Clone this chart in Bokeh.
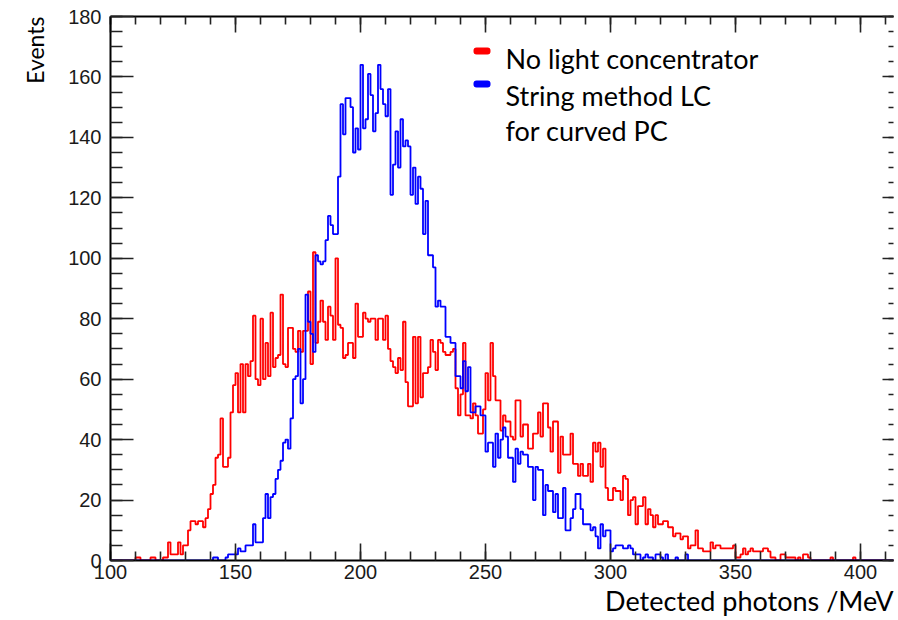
import numpy as np
from bokeh.plotting import figure
from bokeh.models import (Range1d, LinearAxis, SingleIntervalTicker, Label,
                          BoxAnnotation, Title, CustomLabelingPolicy)
from bokeh.embed import file_html
from bokeh.resources import INLINE

# ---------------- data (1-unit bins, first bin edge at 100) ----------------
first_edge = 100
bin_width = 1

red_counts = [
    0, 0, 0, 0, 0, 0, 0, 0, 0, 0,          # 100
    1, 1, 0, 0, 0, 0, 1, 1, 0, 0,          # 110
    0, 1, 1, 6, 2, 2, 2, 6, 2, 5,          # 120
    5, 10, 13, 13, 12, 13, 13, 11, 14, 17,  # 130
    22, 25, 34, 35, 47, 31, 31, 34, 49, 58,  # 140
    62, 49, 65, 49, 65, 61, 66, 81, 60, 58,  # 150
    80, 60, 72, 61, 82, 64, 67, 68, 88, 65,  # 160
    64, 77, 77, 70, 69, 76, 69, 76, 76, 89,  # 170
    65, 102, 72, 79, 86, 79, 73, 84, 81, 73,  # 180
    100, 78, 77, 67, 68, 72, 72, 67, 85, 74,  # 190
    74, 82, 80, 79, 80, 80, 73, 80, 80, 73,  # 200
    81, 70, 66, 64, 62, 67, 63, 79, 59, 51,  # 210
    51, 74, 52, 74, 54, 62, 62, 64, 73, 69,  # 220
    63, 73, 72, 69, 68, 68, 69, 70, 57, 48,  # 230
    55, 72, 48, 48, 47, 52, 48, 42, 42, 50,  # 240
    62, 53, 72, 61, 53, 53, 43, 48, 46, 46,  # 250
    41, 40, 53, 53, 41, 45, 45, 37, 37, 42,  # 260
    42, 49, 41, 52, 52, 44, 36, 46, 46, 29,  # 270
    41, 35, 35, 35, 42, 32, 32, 28, 32, 28,  # 280
    28, 32, 26, 39, 36, 39, 31, 37, 24, 20,  # 290
    20, 24, 23, 23, 20, 28, 27, 15, 20, 21,  # 300
    12, 18, 18, 21, 12, 17, 15, 11, 15, 12,  # 310
    12, 13, 13, 11, 11, 8, 9, 9, 7, 8,      # 320
    8, 4, 5, 5, 10, 4, 4, 3, 3, 3,          # 330
    6, 4, 5, 5, 4, 4, 4, 4, 4, 5,           # 340
    1, 1, 2, 4, 2, 3, 4, 3, 3, 3,           # 350
    3, 4, 4, 3, 1, 1, 0, 0, 2, 2,           # 360
    1, 1, 1, 1, 0, 1, 0, 2, 2, 1,           # 370
    0, 0, 0, 0, 0, 0, 0, 0, 1, 0,           # 380
    0, 0, 0, 0, 0, 0, 0, 1, 0, 0,           # 390
    0, 0, 0, 0, 0, 0, 0, 0, 0, 0,           # 400
    0, 0, 0, 0, 0, 0,                       # 410
]

blue_counts = [
    0, 0, 0, 0, 0, 0, 0, 0, 0, 0,          # 100
    0, 0, 0, 0, 0, 0, 0, 0, 0, 0,          # 110
    0, 0, 0, 0, 0, 0, 0, 0, 0, 0,          # 120
    0, 0, 0, 0, 0, 0, 0, 0, 0, 0,          # 130
    0, 1, 1, 0, 0, 0, 1, 2, 2, 2,          # 140
    2, 4, 3, 3, 5, 5, 5, 12, 6, 6,         # 150
    6, 14, 22, 14, 21, 22, 27, 30, 33, 39,  # 160
    40, 37, 47, 60, 61, 70, 52, 60, 88, 79,  # 170
    75, 69, 101, 99, 98, 99, 106, 114, 111, 108,  # 180
    108, 127, 151, 141, 153, 153, 150, 135, 143, 136,  # 190
    164, 143, 146, 161, 154, 142, 148, 164, 156, 151,  # 200
    147, 156, 121, 131, 142, 130, 146, 137, 139, 137,  # 210
    121, 130, 118, 127, 123, 108, 119, 101, 101, 97,  # 220
    84, 86, 84, 84, 74, 74, 72, 72, 61, 61,  # 230
    57, 66, 56, 64, 49, 49, 51, 51, 48, 48,  # 240
    36, 39, 39, 31, 42, 34, 40, 44, 41, 34,  # 250
    34, 26, 37, 32, 36, 35, 35, 31, 31, 20,  # 260
    31, 30, 30, 15, 25, 23, 23, 16, 22, 14,  # 270
    14, 24, 10, 10, 14, 17, 22, 22, 17, 12,  # 280
    12, 12, 10, 11, 8, 4, 12, 8, 10, 10,    # 290
    3, 4, 5, 5, 5, 4, 4, 5, 4, 2,           # 300
    2, 2, 0, 1, 2, 1, 1, 0, 2, 2,           # 310
    1, 0, 2, 0, 0, 0, 1, 0, 0, 0,           # 320
    2, 0, 0, 0, 0, 0, 0, 0, 0, 0,           # 330
    0, 0, 0, 0, 0, 0, 0, 0, 0, 0,           # 340
    0, 0, 0, 0, 0, 0, 0, 0, 0, 0,           # 350
    0, 0, 0, 0, 0, 0, 0, 0, 0, 0,           # 360
    0, 0, 0, 0, 0, 0, 0, 0, 0, 0,           # 370
    0, 0, 0, 0, 0, 0, 0, 0, 0, 0,           # 380
    0, 0, 0, 0, 0, 0, 0, 0, 0, 0,           # 390
    0, 0, 0, 0, 0, 0, 0, 0, 0, 0,           # 400
    0, 0, 0, 0, 0, 0,                       # 410
]

series_labels = ["No light concentrator", "String method LC", "for curved PC"]
x_axis_title = "Detected photons /MeV"
y_axis_title = "Events"
x_tick_step = 50
y_tick_step = 20

# ---------------- figure ----------------
W, H = 898, 620
x_end = 413.2
p = figure(width=W, height=H, output_backend="svg", toolbar_location=None,
           x_range=Range1d(100, x_end), y_range=Range1d(0, 180),
           min_border_left=110, min_border_right=0, min_border_top=16,
           min_border_bottom=60, x_axis_type=None, y_axis_type=None)
p.background_fill_color = "white"
p.border_fill_color = "white"
p.outline_line_color = None
p.xgrid.visible = False
p.ygrid.visible = False

tick_font = "Liberation Sans"
axis_col = "#222222"
no_labels = CustomLabelingPolicy(code="return []")

def style_axis(ax, tin, mtin, labels=True):
    ax.major_tick_in = tin
    ax.major_tick_out = 0
    ax.minor_tick_in = mtin
    ax.minor_tick_out = 0
    ax.major_tick_line_color = axis_col
    ax.minor_tick_line_color = axis_col
    ax.major_tick_line_width = 1.6
    ax.minor_tick_line_width = 1.6
    ax.axis_line_color = "black"
    ax.axis_line_width = 2
    ax.major_label_text_font = tick_font
    ax.major_label_text_color = "#1a1a1a"
    if labels:
        ax.major_label_text_font_size = "20px"
    else:
        ax.major_label_text_font_size = "1px"
        ax.major_label_policy = no_labels
        ax.major_label_standoff = 0

xt = SingleIntervalTicker(interval=x_tick_step, num_minor_ticks=5)
yt = SingleIntervalTicker(interval=y_tick_step, num_minor_ticks=4)

xb = LinearAxis(ticker=xt)
style_axis(xb, 17, 9)
xb.major_label_standoff = 4
p.add_layout(xb, "below")

xa = LinearAxis(ticker=xt)
style_axis(xa, 16, 8, labels=False)
p.add_layout(xa, "above")

yl = LinearAxis(ticker=yt)
style_axis(yl, 23, 12)
yl.major_label_standoff = 9
p.add_layout(yl, "left")

yr = LinearAxis(ticker=yt)
style_axis(yr, 11, 5, labels=False)
yr.axis_line_color = None
p.add_layout(yr, "right")

# ---------------- histograms ----------------
def step_xy(counts):
    c = np.asarray(counts, dtype=float)
    edges = first_edge + bin_width * np.arange(len(c) + 1)
    return edges, np.append(c, c[-1])

rx, ry = step_xy(red_counts)
bx, by = step_xy(blue_counts)
p.step(rx, ry, mode="after", line_color="#ff0000", line_width=1.8)
p.step(bx, by, mode="after", line_color="#0000ff", line_width=1.8)

# ---------------- legend (manual) ----------------
leg_font = "Lato"
p.add_layout(BoxAnnotation(left=363, right=380, top=513, bottom=506,
                           left_units="screen", right_units="screen",
                           top_units="screen", bottom_units="screen",
                           fill_color="#ff0000", fill_alpha=1, line_color=None,
                           border_radius=3))
p.add_layout(BoxAnnotation(left=363, right=380, top=480, bottom=473,
                           left_units="screen", right_units="screen",
                           top_units="screen", bottom_units="screen",
                           fill_color="#0000ff", fill_alpha=1, line_color=None,
                           border_radius=3))
for txt, yy in zip(series_labels, [502, 465, 430]):
    p.add_layout(Label(x=395, y=yy, x_units="screen", y_units="screen",
                       text=txt, text_font=leg_font, text_font_size="27px",
                       text_color="black", text_baseline="alphabetic"))

# ---------------- axis titles ----------------
p.add_layout(Title(text=y_axis_title, align="right", text_font=leg_font,
                   text_font_size="23px", text_font_style="normal",
                   text_color="black", standoff=33), "left")
p.add_layout(Title(text=x_axis_title, align="right", text_font=leg_font,
                   text_font_size="27px", text_font_style="normal",
                   text_color="black", standoff=0), "below")

open("out.html", "w").write(file_html(p, INLINE))
